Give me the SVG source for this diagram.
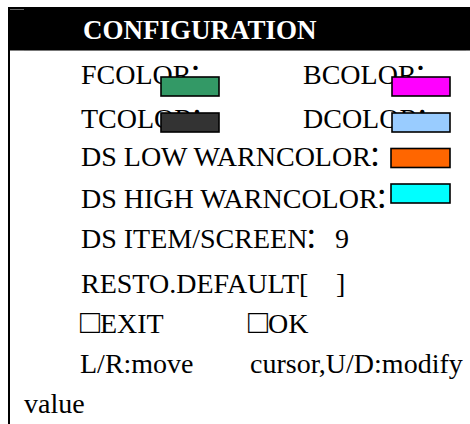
<svg xmlns="http://www.w3.org/2000/svg" width="470" height="424" viewBox="0 0 470 424">
<style>
.t{font-family:"Liberation Serif","Noto Sans CJK SC",serif;font-size:28px;fill:#000;white-space:pre}
.c{font-family:"Noto Sans CJK SC",serif}
.b{font-size:33px}
.h{font-family:"Liberation Serif",serif;font-size:27px;font-weight:bold;fill:#fff}
.sw{stroke:#000;stroke-width:1.6}
</style>
<rect width="470" height="424" fill="#fff"/>
<g id="header">
<rect x="8" y="7" width="462" height="43.5" fill="#000"/>
<line x1="10" y1="9.5" x2="24" y2="9.5" stroke="#666" stroke-width="1"/>
<line x1="24" y1="50.5" x2="466" y2="50.5" stroke="#777" stroke-width="1"/>
<text class="h" x="83" y="39">CONFIGURATION</text>
</g>
<g id="frame">
<line x1="9" y1="50" x2="9" y2="424" stroke="#000" stroke-width="2"/>
</g>
<g id="fcolor">
<text class="t" x="81" y="84">FCOLOR<tspan class="c" dx="-3">：</tspan></text>
<rect class="sw" x="161" y="77" width="58" height="19" fill="#339966"/>
</g>
<g id="bcolor">
<text class="t" x="303" y="84">BCOLOR<tspan class="c" dx="-3">：</tspan></text>
<rect class="sw" x="392" y="77" width="58" height="19" fill="#ff00ff"/>
</g>
<g id="tcolor">
<text class="t" x="81" y="128">TCOLOR<tspan class="c" dx="-3">：</tspan></text>
<rect class="sw" x="161" y="113" width="58" height="19" fill="#333333"/>
</g>
<g id="dcolor">
<text class="t" x="303" y="128">DCOLOR<tspan class="c" dx="-3">：</tspan></text>
<rect class="sw" x="392" y="113" width="58" height="19" fill="#99ccff"/>
</g>
<g id="dslow">
<text class="t" x="81" y="166">DS LOW WARNCOLOR<tspan class="c" dx="-3">：</tspan></text>
<rect class="sw" x="391" y="148.5" width="59" height="19" fill="#ff6600"/>
</g>
<g id="dshigh">
<text class="t" x="81" y="208">DS HIGH WARNCOLOR<tspan class="c" dx="-3">：</tspan></text>
<rect class="sw" x="391" y="184" width="59" height="19" fill="#00ffff"/>
</g>
<g id="dsitem">
<text class="t" x="81" y="248">DS ITEM/SCREEN<tspan class="c" dx="-3">：</tspan><tspan x="335">9</tspan></text>
</g>
<g id="resto">
<text class="t" x="81" y="293">RESTO.DEFAULT[<tspan x="336">]</tspan></text>
</g>
<g id="exit">
<text class="t" x="80" y="333"><tspan class="b">□</tspan>EXIT</text>
</g>
<g id="ok">
<text class="t" x="248" y="333"><tspan class="b">□</tspan>OK</text>
</g>
<g id="help">
<text class="t" x="80" y="373">L/R:move</text>
<text class="t" x="250" y="373">cursor,U/D:modify</text>
<text class="t" x="24" y="413">value</text>
</g>
</svg>
